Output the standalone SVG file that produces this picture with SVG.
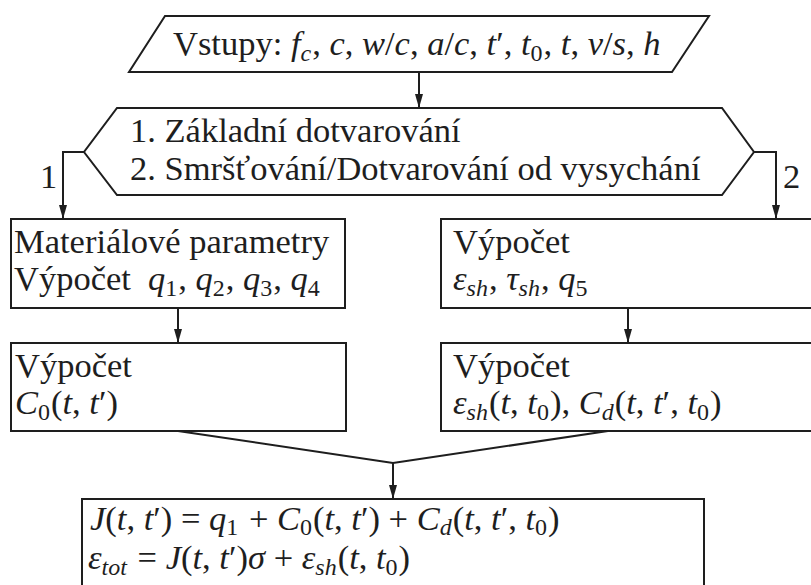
<svg xmlns="http://www.w3.org/2000/svg" width="811" height="585" viewBox="0 0 811 585">
<defs>
<marker id="arr" markerUnits="userSpaceOnUse" markerWidth="14" markerHeight="8" refX="14" refY="4" orient="auto">
<path d="M0,0 L14,4 L0,8 z" fill="#1e1e1e"/>
</marker>
<style>
.shape{fill:#fff;stroke:#1e1e1e;stroke-width:2}
.con{fill:none;stroke:#1e1e1e;stroke-width:2}
.t{font-family:"Liberation Serif","DejaVu Serif",serif;font-size:34.5px;fill:#1e1e1e}
.i{font-style:italic}
.s{font-size:24px}
</style>
</defs>
<rect width="811" height="585" fill="#fff"/>

<g id="connectors">
<path class="con" d="M419,72 L419,108" marker-end="url(#arr)"/>
<path class="con" d="M84,152 L63,152 L63,219" marker-end="url(#arr)"/>
<path class="con" d="M754,152 L776,152 L776,219" marker-end="url(#arr)"/>
<path class="con" d="M178,308 L178,343" marker-end="url(#arr)"/>
<path class="con" d="M628,308 L628,343" marker-end="url(#arr)"/>
<path class="con" d="M178,431 L393,463 L608,431"/>
<path class="con" d="M393,463 L393,499" marker-end="url(#arr)"/>
<text class="t" x="40" y="188">1</text>
<text class="t" x="783" y="188">2</text>
</g>

<g id="inputs">
<polygon class="shape" points="165,16 709,16 672,72 129,72"/>
<text class="t" x="173" y="55">Vstupy: <tspan class="i">f</tspan><tspan class="s i" dy="6">c</tspan><tspan dy="-6" dx="1">, </tspan><tspan class="i">c</tspan>, <tspan class="i">w</tspan>/<tspan class="i">c</tspan>, <tspan class="i">a</tspan>/<tspan class="i">c</tspan>, <tspan class="i">t</tspan>′, <tspan class="i">t</tspan><tspan class="s" dy="6">0</tspan><tspan dy="-6" dx="1">, </tspan><tspan class="i">t</tspan>, <tspan class="i">v</tspan>/<tspan class="i">s</tspan>, <tspan class="i">h</tspan></text>
</g>

<g id="decision">
<polygon class="shape" points="117,108 722,108 754,152 722,195 117,195 84,152"/>
<text class="t" x="130" y="142">1. Základní dotvarování</text>
<text class="t" x="130" y="180">2. Smršťování/Dotvarování od vysychání</text>
</g>

<g id="material">
<rect class="shape" x="11" y="219" width="334" height="89"/>
<text class="t" x="14" y="253">Materiálové parametry</text>
<text class="t" x="14" y="290">Výpočet</text>
<text class="t" x="148" y="290"><tspan class="i">q</tspan><tspan class="s" dy="6">1</tspan><tspan dy="-6" dx="1">, </tspan><tspan class="i">q</tspan><tspan class="s" dy="6">2</tspan><tspan dy="-6" dx="1">, </tspan><tspan class="i">q</tspan><tspan class="s" dy="6">3</tspan><tspan dy="-6" dx="1">, </tspan><tspan class="i">q</tspan><tspan class="s" dy="6">4</tspan></text>
</g>

<g id="shrinkage">
<rect class="shape" x="441" y="219" width="390" height="89"/>
<text class="t" x="453" y="253">Výpočet</text>
<text class="t" x="453" y="290"><tspan class="i">ε</tspan><tspan class="s i" dy="6">sh</tspan><tspan dy="-6" dx="1">, </tspan><tspan class="i">τ</tspan><tspan class="s i" dy="6">sh</tspan><tspan dy="-6" dx="1">, </tspan><tspan class="i">q</tspan><tspan class="s" dy="6">5</tspan></text>
</g>

<g id="basic">
<rect class="shape" x="11" y="343" width="335" height="88"/>
<text class="t" x="15" y="377">Výpočet</text>
<text class="t" x="15" y="414"><tspan class="i">C</tspan><tspan class="s" dy="6">0</tspan><tspan dy="-6" dx="1">(</tspan><tspan class="i">t</tspan>, <tspan class="i">t</tspan>′)</text>
</g>

<g id="drying">
<rect class="shape" x="441" y="343" width="390" height="88"/>
<text class="t" x="453" y="377">Výpočet</text>
<text class="t" x="453" y="414"><tspan class="i">ε</tspan><tspan class="s i" dy="6">sh</tspan><tspan dy="-6" dx="1">(</tspan><tspan class="i">t</tspan>, <tspan class="i">t</tspan><tspan class="s" dy="6">0</tspan><tspan dy="-6" dx="1">), </tspan><tspan class="i">C</tspan><tspan class="s i" dy="6">d</tspan><tspan dy="-6" dx="1">(</tspan><tspan class="i">t</tspan>, <tspan class="i">t</tspan>′, <tspan class="i">t</tspan><tspan class="s" dy="6">0</tspan><tspan dy="-6" dx="1">)</tspan></text>
</g>

<g id="result">
<rect class="shape" x="82" y="499" width="622" height="110"/>
<text class="t" x="90" y="530"><tspan class="i">J</tspan>(<tspan class="i">t</tspan>, <tspan class="i">t</tspan>′) = <tspan class="i">q</tspan><tspan class="s" dy="5">1</tspan><tspan dy="-5" dx="2"> + </tspan><tspan class="i">C</tspan><tspan class="s" dy="5">0</tspan><tspan dy="-5" dx="1">(</tspan><tspan class="i">t</tspan>, <tspan class="i">t</tspan>′) + <tspan class="i">C</tspan><tspan class="s i" dy="5">d</tspan><tspan dy="-5" dx="1">(</tspan><tspan class="i">t</tspan>, <tspan class="i">t</tspan>′, <tspan class="i">t</tspan><tspan class="s" dy="5">0</tspan><tspan dy="-5" dx="1">)</tspan></text>
<text class="t" x="88" y="569"><tspan class="i">ε</tspan><tspan class="s i" dy="6">tot</tspan><tspan dy="-6" dx="2"> = </tspan><tspan class="i">J</tspan>(<tspan class="i">t</tspan>, <tspan class="i">t</tspan>′)<tspan class="i">σ</tspan> + <tspan class="i">ε</tspan><tspan class="s i" dy="6">sh</tspan><tspan dy="-6" dx="1">(</tspan><tspan class="i">t</tspan>, <tspan class="i">t</tspan><tspan class="s" dy="6">0</tspan><tspan dy="-6" dx="1">)</tspan></text>
</g>
</svg>
